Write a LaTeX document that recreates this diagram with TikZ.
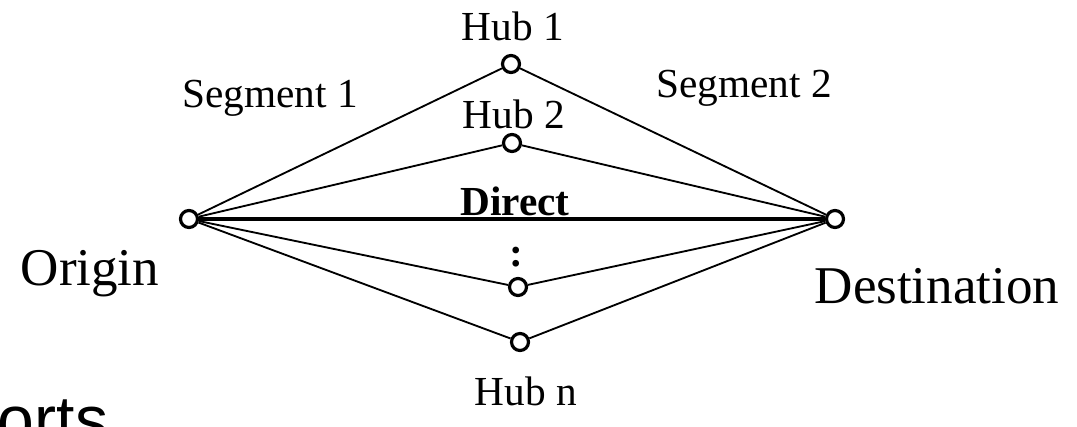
\documentclass[tikz,border=0pt]{standalone}
\usepackage{fontspec}
\setmainfont{Liberation Serif}
\newfontfamily\slidefont{Liberation Sans}

\begin{document}
\begin{tikzpicture}[x = 0.02cm, y = -0.02cm, line width = 1.05pt,
                        hub/.style = {circle, draw, line width = 1.8pt, fill = white, minimum size = 0.34cm, inner sep = 0pt},
                        lbl/.style = {anchor = base, inner sep = 0pt, font = \fontsize{23.5}{28}\selectfont},
                        big/.style = {anchor = base, inner sep = 0pt, font = \fontsize{30.2}{36}\selectfont}]
      \clip (0, 0) rectangle (1077, 426);
      \node [hub] (org) at (189, 219){};
      \node [hub] (dst) at (835, 219){};
      \node [hub] (h1) at (511, 64){};
      \node [hub] (h2) at (512, 143){};
      \node [hub] (h3) at (518, 287){};
      \node [hub] (hn) at (520, 342){};
      \draw (org) -- (h1) -- (dst);
      \draw (org) -- (h2) -- (dst);
      \draw (org) -- (h3) -- (dst);
      \draw (org) -- (hn) -- (dst);
      \draw [line width = 2pt] (org) -- (dst);
      % labels
      \node [lbl] (l1) at (513, 40){Hub 1};
      \node [lbl] (l2) at (514, 128){Hub 2};
      \node [lbl] (ln) at (526, 405){Hub n};
      \node [lbl] (ldir) at (515, 215){\textbf{Direct}};
      \node [lbl] (ldots) at (516, 266){\textbf{:}};
      \node [lbl] (s1) at (270, 107){Segment 1};
      \node [lbl] (s2) at (744, 97){Segment 2};
      \node [big] (lorg) at (90, 285){Origin};
      \node [big] (ldst) at (937, 303){Destination};
      \node [anchor = base east, inner sep = 0pt, font = \slidefont\fontsize{37.6}{44}\selectfont] (frag) at (109, 442){orts};
    \end{tikzpicture}
\end{document}
